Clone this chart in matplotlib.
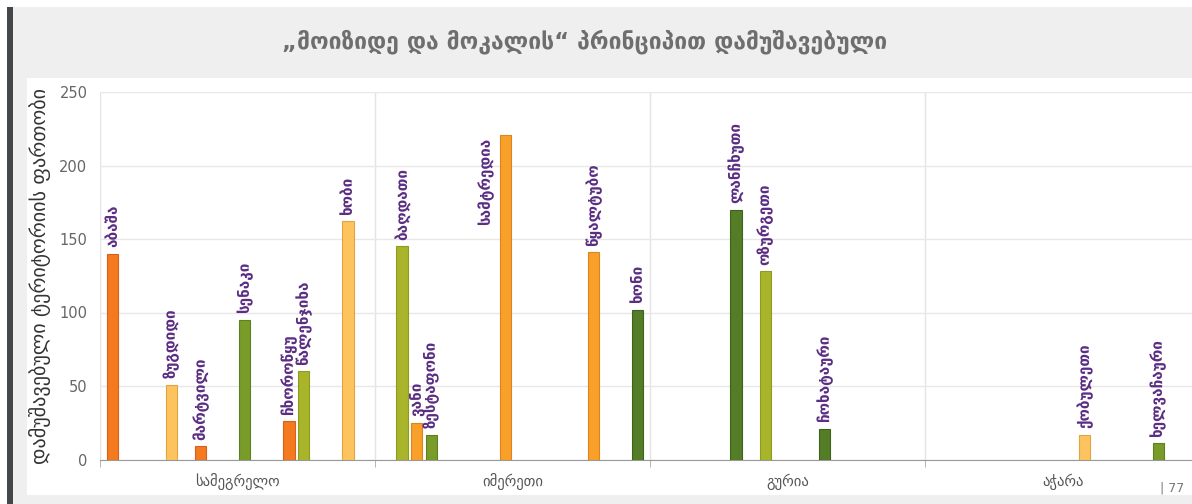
import matplotlib.pyplot as plt
from matplotlib.patches import Rectangle

# Chart data: districts in series order (alphabetical), region and area value
regions = ["სამეგრელო", "იმერეთი", "გურია", "აჭარა"]

districts = [
    "აბაშა", "ბაღდათი", "ვანი", "ზესტაფონი", "ზუგდიდი", "ლანჩხუთი",
    "მარტვილი", "ოზურგეთი", "სამტრედია", "სენაკი", "ქობულეთი", "ჩოხატაური",
    "ჩხოროწყუ", "წალენჯიხა", "წყალტუბო", "ხელვაჩაური", "ხობი", "ხონი",
]
district_region = [
    "სამეგრელო", "იმერეთი", "იმერეთი", "იმერეთი", "სამეგრელო", "გურია",
    "სამეგრელო", "გურია", "იმერეთი", "სამეგრელო", "აჭარა", "გურია",
    "სამეგრელო", "სამეგრელო", "იმერეთი", "აჭარა", "სამეგრელო", "იმერეთი",
]
area = [140, 145, 25, 17, 51, 170, 9, 128, 221, 95, 17, 21, 26, 60, 141, 11, 162, 102]

yticks = [0, 50, 100, 150, 200, 250]

title = "„მოიზიდე და მოკალის“ პრინციპით დამუშავებული"
ylabel = "დამუშავებული ტერიტორიის ფართობი"

palette = ["#f47a20", "#a8b52a", "#f9a02a", "#789b2a", "#fdc35e", "#557c27"]
edge_palette = ["#d8601a", "#8e9a20", "#dc8420", "#5f8020", "#e0a445", "#3f621c"]
label_color = "#5a2d82"

fig = plt.figure(figsize=(11.92, 5.04), dpi=100)

# page background: grey strip, dark left bar, white chart panel
fig.patches.append(Rectangle((0, 0), 1, 1, transform=fig.transFigure,
                             facecolor="white", edgecolor="none", zorder=-10))
fig.patches.append(Rectangle((13 / 1192, 0), 1, 1 - 7 / 504, transform=fig.transFigure,
                             facecolor="#efefef", edgecolor="none", zorder=-9))
fig.patches.append(Rectangle((7 / 1192, 0), 6 / 1192, 1 - 7 / 504, transform=fig.transFigure,
                             facecolor="#45484b", edgecolor="none", zorder=-8))
fig.patches.append(Rectangle((27 / 1192, 1 - 495 / 504), 1, (495 - 78) / 504,
                             transform=fig.transFigure,
                             facecolor="white", edgecolor="none", zorder=-7))

fig.text(585 / 1192, 1 - 42 / 504, title, ha="center", va="center",
         fontsize=16.5, fontweight="bold", color="#6e6e6e")

ax = fig.add_axes([100 / 1192, 1 - 459.5 / 504, 1100 / 1192, 367.5 / 504])
ax.set_facecolor("none")

n_series = len(districts)
group_pad = 0.018
slot = (1 - 2 * group_pad) / n_series
bar_w = slot * 0.76

for i, (name, reg, val) in enumerate(zip(districts, district_region, area)):
    c = regions.index(reg)
    x = c - 0.5 + group_pad + slot * (i + 0.5)
    ax.bar(x, val, width=bar_w, color=palette[i % 6],
           edgecolor=edge_palette[i % 6], linewidth=0.8, zorder=3)
    if val + 62 > yticks[-1]:
        # label would overflow the top: put it beside the bar
        ax.text(x - slot * 1.35, val - 2, name, rotation=90, ha="center", va="top",
                fontsize=11, fontweight="bold", color=label_color, zorder=4)
    else:
        ax.text(x, val + 4.5, name, rotation=90, ha="center", va="bottom",
                fontsize=11, fontweight="bold", color=label_color, zorder=4)

ax.set_xlim(-0.5, len(regions) - 0.5)
ax.set_ylim(0, 250)
ax.set_yticks(yticks)
ax.set_yticklabels([str(t) for t in yticks], fontsize=10.5, color="#666666")
ax.set_xticks(range(len(regions)))
ax.set_xticklabels(regions, fontsize=10.5, color="#555555")
ax.tick_params(axis="x", length=0, pad=10)
ax.tick_params(axis="y", length=0, pad=9)

# minor ticks at category boundaries
ax.set_xticks([c - 0.5 for c in range(len(regions) + 1)], minor=True)
ax.tick_params(axis="x", which="minor", length=5, color="#aaaaaa", direction="out")
ax.grid(axis="x", which="minor", color="#e4e4e4", linewidth=1, zorder=0)
ax.grid(axis="y", color="#e8e8e8", linewidth=1, zorder=0)

for side in ["top", "right", "left"]:
    ax.spines[side].set_visible(False)
ax.spines["bottom"].set_color("#999999")

ax.set_ylabel(ylabel, fontsize=14.5, color="#333333", labelpad=6)

fig.text(1160 / 1192, 1 - 495 / 504, "| 77", fontsize=9, color="#777777", va="bottom")

fig.savefig("out.png", dpi=100)
